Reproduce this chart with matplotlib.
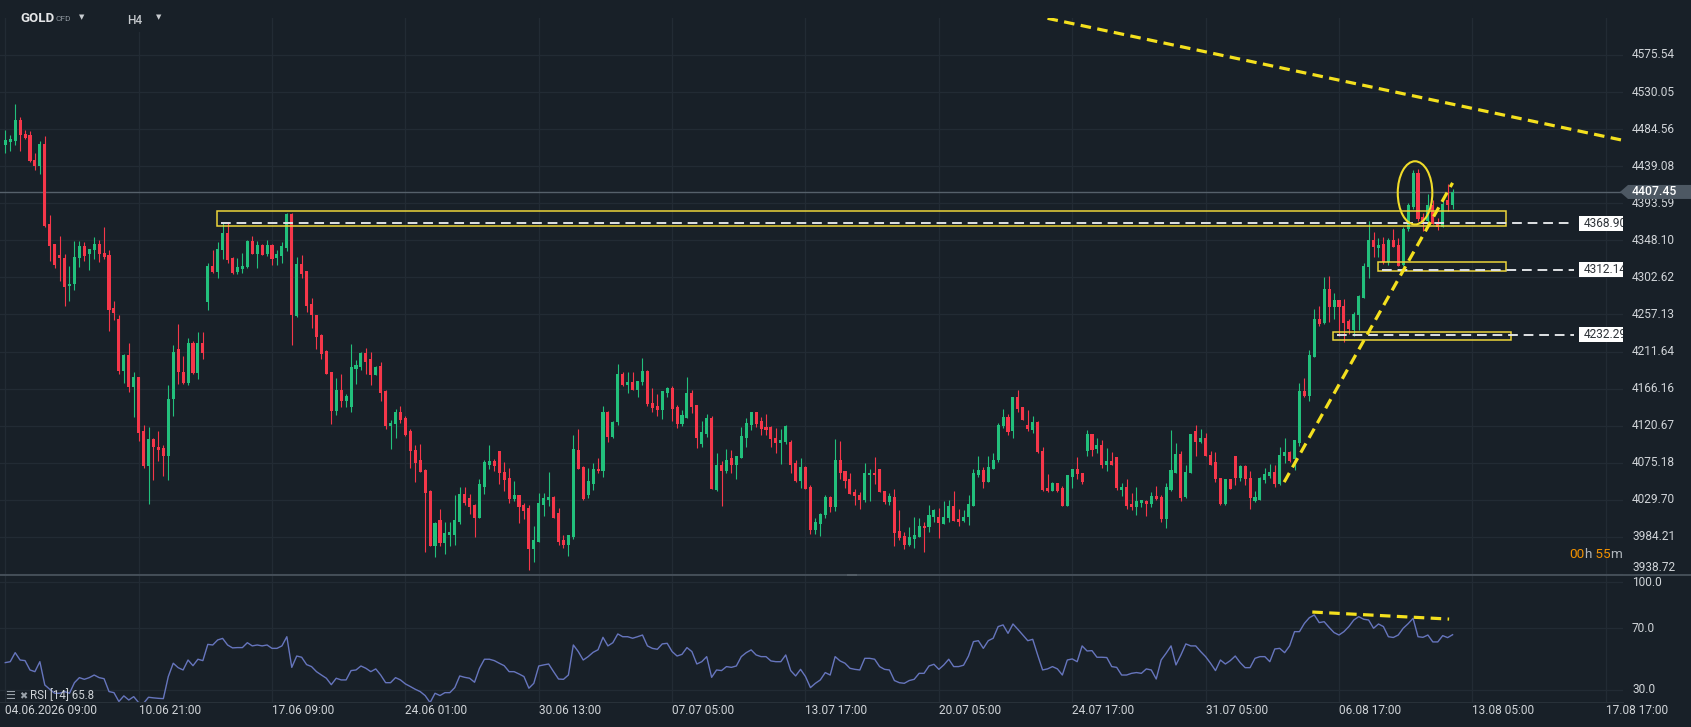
import matplotlib
matplotlib.use("Agg")
import matplotlib.pyplot as plt
from matplotlib.patches import Rectangle, Ellipse, Polygon
from matplotlib.lines import Line2D
from matplotlib.transforms import blended_transform_factory
import numpy as np

plt.rcParams['font.family'] = ['Roboto', 'DejaVu Sans']

# colours
BG = '#182028'
GRID = '#222b34'
TXT = '#d0d4d8'
UP = '#22c07c'
DOWN = '#f5374a'
YEL = '#f4e01e'

# ---- GOLD H4 candles ----
opens = [
    4465, 4469, 4470, 4496, 4479, 4477, 4447, 4439, 4466, 4368,
    4343, 4330, 4327, 4292, 4295, 4326, 4341, 4331, 4336, 4344,
    4333, 4330, 4265, 4252, 4188, 4207, 4168, 4181, 4114, 4071,
    4104, 4095, 4093, 4083, 4153, 4215, 4187, 4173, 4222, 4185,
    4222, 4272, 4317, 4309, 4336, 4357, 4326, 4309, 4313, 4315,
    4347, 4331, 4342, 4331, 4342, 4326, 4329, 4339, 4381, 4255,
    4319, 4310, 4270, 4257, 4232, 4212, 4186, 4139, 4164, 4151,
    4143, 4190, 4193, 4210, 4202, 4183, 4194, 4163, 4120, 4123,
    4138, 4130, 4114, 4091, 4079, 4066, 4041, 3973, 4005, 3977,
    3986, 3987, 4002, 4037, 4032, 4023, 4007, 4046, 4073, 4077,
    4089, 4064, 4057, 4031, 4035, 4023, 4020, 3969, 3978, 4023,
    4030, 4033, 4014, 3980, 3974, 3984, 4091, 4070, 4035, 4049,
    4068, 4065, 4138, 4107, 4125, 4184, 4171, 4174, 4165, 4174,
    4188, 4149, 4145, 4140, 4161, 4167, 4143, 4123, 4130, 4161,
    4146, 4098, 4111, 4130, 4042, 4072, 4065, 4081, 4072, 4081,
    4106, 4122, 4137, 4127, 4119, 4119, 4106, 4100, 4101, 4101,
    4075, 4053, 4070, 4045, 3993, 4000, 4011, 4033, 4021, 4078,
    4065, 4055, 4039, 4036, 4030, 4060, 4063, 4067, 4041, 4027,
    4033, 3991, 3985, 3974, 3982, 3984, 3998, 3996, 4009, 4008,
    4000, 4007, 4022, 4006, 4004, 4008, 4022, 4060, 4066, 4051,
    4067, 4079, 4120, 4131, 4114, 4156, 4143, 4121, 4115, 4125,
    4090, 4044, 4040, 4050, 4044, 4022, 4058, 4068, 4063, 4090,
    4110, 4092, 4097, 4072, 4077, 4082, 4042, 4046, 4024, 4021,
    4026, 4028, 4024, 4034, 4033, 4006, 4042, 4063, 4086, 4033,
    4062, 4114, 4101, 4105, 4085, 4076, 4057, 4024, 4055, 4084,
    4056, 4071, 4057, 4028, 4030, 4054, 4059, 4064, 4049, 4083,
    4088, 4080, 4099, 4163, 4157, 4205, 4251, 4247, 4288, 4266,
    4275, 4268, 4249, 4238, 4257, 4277, 4315, 4349, 4339, 4343,
    4321, 4348, 4342, 4318, 4362, 4389, 4431, 4377, 4372, 4391,
    4368, 4365, 4398, 4391,
]
highs = [
    4484, 4477, 4515, 4500, 4483, 4482, 4455, 4470, 4476, 4379,
    4343, 4353, 4331, 4317, 4347, 4347, 4346, 4338, 4352, 4349,
    4364, 4336, 4274, 4257, 4209, 4222, 4186, 4181, 4121, 4119,
    4106, 4114, 4097, 4170, 4220, 4246, 4206, 4228, 4225, 4235,
    4235, 4320, 4336, 4346, 4369, 4369, 4328, 4326, 4333, 4348,
    4354, 4347, 4343, 4349, 4344, 4336, 4346, 4382, 4382, 4328,
    4330, 4310, 4277, 4257, 4233, 4213, 4186, 4179, 4184, 4159,
    4221, 4201, 4211, 4216, 4211, 4194, 4199, 4164, 4128, 4141,
    4145, 4132, 4116, 4097, 4098, 4068, 4042, 4003, 4019, 4002,
    4002, 4035, 4046, 4046, 4037, 4025, 4055, 4079, 4097, 4080,
    4089, 4076, 4069, 4053, 4036, 4026, 4023, 3998, 4038, 4038,
    4064, 4034, 4020, 3987, 3986, 4109, 4117, 4071, 4069, 4075,
    4081, 4145, 4139, 4127, 4196, 4187, 4186, 4186, 4176, 4204,
    4189, 4167, 4160, 4163, 4168, 4169, 4146, 4140, 4181, 4164,
    4146, 4127, 4135, 4132, 4087, 4077, 4092, 4091, 4084, 4119,
    4130, 4138, 4138, 4131, 4135, 4120, 4118, 4116, 4121, 4103,
    4078, 4081, 4071, 4048, 4007, 4013, 4035, 4034, 4104, 4102,
    4065, 4062, 4043, 4039, 4075, 4067, 4082, 4067, 4041, 4038,
    4043, 4017, 3990, 3996, 4008, 4007, 4003, 4023, 4018, 4020,
    4028, 4030, 4040, 4019, 4017, 4035, 4067, 4083, 4070, 4083,
    4087, 4124, 4141, 4135, 4156, 4165, 4143, 4140, 4132, 4127,
    4094, 4061, 4051, 4050, 4047, 4060, 4068, 4082, 4063, 4115,
    4110, 4105, 4103, 4093, 4088, 4082, 4050, 4055, 4038, 4046,
    4030, 4030, 4039, 4047, 4035, 4050, 4115, 4099, 4089, 4073,
    4110, 4121, 4117, 4112, 4090, 4088, 4057, 4055, 4055, 4084,
    4073, 4072, 4065, 4041, 4058, 4069, 4074, 4073, 4094, 4106,
    4089, 4103, 4173, 4179, 4213, 4264, 4268, 4303, 4304, 4284,
    4275, 4276, 4251, 4260, 4281, 4320, 4372, 4358, 4351, 4352,
    4351, 4362, 4351, 4365, 4394, 4434, 4436, 4382, 4405, 4398,
    4376, 4398, 4417, 4411,
]
lows = [
    4455, 4458, 4465, 4458, 4472, 4444, 4435, 4429, 4365, 4323,
    4314, 4298, 4268, 4274, 4287, 4315, 4323, 4312, 4325, 4321,
    4325, 4237, 4250, 4184, 4173, 4162, 4131, 4102, 4069, 4025,
    4054, 4077, 4059, 4054, 4133, 4172, 4172, 4171, 4184, 4178,
    4202, 4263, 4308, 4302, 4325, 4320, 4307, 4307, 4308, 4314,
    4331, 4314, 4330, 4329, 4318, 4318, 4320, 4335, 4220, 4254,
    4302, 4260, 4241, 4215, 4203, 4184, 4123, 4134, 4143, 4144,
    4138, 4172, 4189, 4184, 4171, 4183, 4151, 4116, 4092, 4106,
    4124, 4108, 4069, 4052, 4064, 3966, 3973, 3960, 3973, 3963,
    3973, 3974, 4000, 4023, 4012, 3984, 4007, 4037, 4068, 4065,
    4049, 4041, 4026, 4028, 4001, 4006, 3944, 3953, 3978, 4010,
    4022, 4007, 3974, 3971, 3961, 3982, 4068, 4030, 4032, 4042,
    4062, 4058, 4101, 4106, 4122, 4169, 4161, 4164, 4156, 4171,
    4145, 4138, 4133, 4129, 4156, 4126, 4118, 4120, 4130, 4136,
    4093, 4095, 4107, 4043, 4041, 4022, 4063, 4062, 4055, 4081,
    4095, 4115, 4119, 4109, 4109, 4095, 4087, 4074, 4098, 4063,
    4052, 4044, 4043, 3988, 3988, 3985, 4007, 4015, 4016, 4055,
    4044, 4037, 4023, 4018, 4027, 4028, 4049, 4039, 4025, 4023,
    3973, 3980, 3969, 3973, 3970, 3984, 3966, 3990, 4002, 3983,
    4000, 4002, 4004, 3997, 4002, 3999, 4022, 4058, 4044, 4051,
    4067, 4076, 4118, 4109, 4106, 4137, 4128, 4114, 4112, 4087,
    4040, 4039, 4040, 4039, 4022, 4022, 4044, 4055, 4049, 4083,
    4083, 4087, 4069, 4065, 4072, 4042, 4034, 4018, 4017, 4011,
    4021, 4010, 4021, 4030, 4002, 3995, 4041, 4062, 4028, 4032,
    4062, 4083, 4099, 4083, 4072, 4051, 4023, 4023, 4043, 4048,
    4053, 4048, 4019, 4027, 4030, 4050, 4057, 4046, 4048, 4075,
    4076, 4066, 4096, 4156, 4151, 4205, 4243, 4246, 4248, 4252,
    4231, 4223, 4233, 4231, 4238, 4277, 4302, 4328, 4328, 4319,
    4318, 4340, 4317, 4317, 4359, 4386, 4372, 4359, 4369, 4368,
    4361, 4364, 4384, 4386,
]
closes = [
    4471, 4472, 4496, 4477, 4474, 4445, 4439, 4466, 4366, 4341,
    4318, 4326, 4291, 4295, 4328, 4341, 4329, 4338, 4344, 4331,
    4328, 4263, 4259, 4188, 4207, 4168, 4181, 4112, 4071, 4104,
    4095, 4091, 4083, 4153, 4211, 4187, 4173, 4222, 4185, 4222,
    4210, 4317, 4309, 4338, 4357, 4324, 4308, 4315, 4317, 4347,
    4331, 4342, 4330, 4342, 4325, 4331, 4341, 4381, 4256, 4319,
    4307, 4268, 4256, 4230, 4209, 4184, 4139, 4164, 4151, 4157,
    4193, 4195, 4210, 4199, 4183, 4193, 4161, 4120, 4124, 4138,
    4128, 4109, 4089, 4075, 4064, 4038, 3973, 4001, 3977, 3989,
    3990, 4005, 4037, 4026, 4021, 4007, 4049, 4076, 4077, 4071,
    4062, 4054, 4031, 4035, 4021, 4016, 3969, 3980, 4026, 4032,
    4033, 4007, 3978, 3974, 3986, 4092, 4068, 4031, 4053, 4068,
    4065, 4138, 4107, 4125, 4184, 4171, 4174, 4165, 4176, 4188,
    4147, 4142, 4140, 4163, 4167, 4141, 4123, 4134, 4161, 4144,
    4106, 4113, 4130, 4043, 4072, 4065, 4079, 4072, 4083, 4108,
    4124, 4137, 4123, 4117, 4115, 4104, 4100, 4103, 4120, 4072,
    4053, 4070, 4043, 3993, 4002, 4012, 4033, 4021, 4078, 4063,
    4053, 4037, 4034, 4030, 4063, 4063, 4060, 4039, 4027, 4034,
    3989, 3983, 3974, 3984, 3986, 3998, 3995, 4011, 4017, 4001,
    4009, 4022, 4004, 4002, 4008, 4024, 4062, 4066, 4051, 4070,
    4078, 4122, 4131, 4113, 4156, 4141, 4128, 4117, 4125, 4088,
    4042, 4040, 4050, 4041, 4022, 4060, 4068, 4061, 4052, 4110,
    4091, 4097, 4072, 4077, 4073, 4044, 4046, 4022, 4021, 4028,
    4029, 4024, 4034, 4031, 4006, 4045, 4066, 4086, 4032, 4064,
    4110, 4101, 4105, 4083, 4073, 4055, 4024, 4055, 4043, 4056,
    4071, 4055, 4032, 4033, 4057, 4061, 4064, 4049, 4085, 4088,
    4077, 4103, 4163, 4157, 4207, 4251, 4245, 4288, 4266, 4275,
    4266, 4247, 4239, 4258, 4280, 4316, 4349, 4340, 4342, 4321,
    4348, 4340, 4317, 4362, 4391, 4431, 4374, 4371, 4391, 4368,
    4365, 4393, 4392, 4407,
]

# RSI(14), one value per candle
rsi = [
    47.6, 48.2, 54.1, 49.3, 48.9, 42.8, 41.7, 48.2, 33.0, 30.2,
    27.6, 27.6, 28.7, 27.6, 34.5, 37.8, 36.7, 37.8, 39.5, 37.8,
    37.1, 28.7, 28.0, 22.2, 25.9, 23.2, 25.4, 21.5, 21.1, 25.0,
    24.6, 24.3, 24.1, 38.5, 47.2, 44.3, 42.8, 49.3, 45.6, 49.8,
    48.9, 59.5, 59.1, 62.4, 63.4, 59.1, 57.2, 57.4, 57.4, 60.6,
    58.5, 59.1, 58.5, 59.1, 56.9, 56.9, 58.5, 64.5, 44.5, 51.9,
    51.1, 46.3, 45.0, 41.7, 39.5, 37.4, 33.2, 37.4, 36.3, 36.3,
    42.4, 42.8, 45.4, 43.9, 41.7, 43.5, 39.5, 34.5, 34.5, 37.8,
    36.3, 33.7, 32.0, 30.2, 28.7, 26.1, 21.5, 27.6, 26.1, 28.0,
    28.0, 31.3, 38.9, 38.0, 37.4, 34.8, 43.9, 49.8, 49.8, 48.9,
    47.2, 45.6, 41.7, 41.7, 40.2, 38.5, 30.9, 34.1, 45.4, 46.1,
    46.7, 41.7, 36.9, 36.7, 39.5, 59.1, 54.8, 49.3, 51.5, 54.3,
    56.0, 64.1, 58.5, 60.6, 66.3, 64.5, 64.5, 63.5, 64.5, 65.6,
    58.5, 56.9, 56.3, 59.8, 60.2, 54.8, 51.9, 53.0, 57.4, 54.8,
    46.7, 48.2, 51.5, 38.0, 42.8, 42.4, 45.0, 44.5, 45.4, 51.5,
    54.1, 55.9, 52.6, 51.5, 51.5, 48.7, 48.2, 48.2, 52.6, 42.4,
    38.9, 43.2, 38.5, 31.3, 34.1, 36.3, 41.1, 39.5, 51.5, 48.7,
    47.2, 43.9, 43.2, 42.8, 50.4, 50.4, 49.8, 45.0, 43.2, 42.8,
    35.9, 34.5, 34.1, 35.9, 36.7, 40.6, 40.6, 45.4, 46.5, 43.2,
    46.1, 49.8, 45.0, 45.0, 45.9, 51.9, 61.3, 61.9, 56.9, 61.9,
    63.5, 71.1, 72.2, 66.7, 72.8, 69.3, 65.6, 61.9, 62.8, 52.6,
    42.8, 43.5, 45.0, 43.5, 39.5, 49.3, 50.0, 48.2, 58.5, 55.2,
    55.4, 51.1, 51.1, 50.9, 45.0, 44.5, 39.5, 39.5, 40.6, 41.1,
    40.6, 43.5, 42.8, 36.9, 49.3, 53.7, 58.5, 46.1, 52.6, 59.8,
    58.5, 58.5, 54.8, 51.5, 47.2, 42.4, 49.3, 46.7, 48.9, 51.9,
    47.6, 44.3, 44.3, 50.4, 51.5, 51.5, 48.2, 56.5, 56.9, 54.1,
    58.5, 67.8, 67.8, 73.2, 76.9, 78.7, 73.7, 74.3, 70.6, 67.2,
    65.6, 67.8, 71.1, 75.4, 77.6, 75.9, 75.4, 70.0, 72.8, 71.1,
    64.5, 64.0, 65.6, 70.0, 73.0, 76.5, 64.5, 64.1, 65.6, 61.1,
    61.1, 65.2, 63.9, 65.8,
]

price_levels = [4575.54, 4530.05, 4484.56, 4439.08, 4393.59, 4348.10, 4302.62,
                4257.13, 4211.64, 4166.16, 4120.67, 4075.18, 4029.70, 3984.21, 3938.72]
rsi_levels = [100.0, 70.0, 30.0]
date_labels = ["04.06.2026 09:00", "10.06 21:00", "17.06 09:00", "24.06 01:00",
               "30.06 13:00", "07.07 05:00", "13.07 17:00", "20.07 05:00",
               "24.07 17:00", "31.07 05:00", "06.08 17:00", "13.08 05:00", "17.08 17:00"]
bars_per_label = 27
last_price = 4407.45

# support zones: level, zone low, zone high, first bar, last bar
zone_levels = [4368.90, 4312.14, 4232.29]
zone_lows = [4365.6, 4310.0, 4226.2]
zone_highs = [4383.5, 4321.0, 4236.0]
zone_starts = [42.9, 277.9, 268.8]
zone_ends = [303.8, 303.9, 304.9]

# trend lines (bar, price)
rise_line = [(258.9, 4051.4), (293.0, 4418.6)]
fall_line = [(211.0, 4620.5), (327.1, 4471.3)]
rsi_line = [(264.6, 80.6), (292.3, 76.0)]

# ---- figure ----
W, H = 1691, 727
fig = plt.figure(figsize=(W / 100, H / 100), dpi=100, facecolor=BG)


def fx(px):
    return px / W


def fy(py):
    return 1 - py / H


PLOT_R = 1623.0
ax = fig.add_axes([0, fy(574.7), fx(PLOT_R), (574.7 - 18) / H])
ax_rsi = fig.add_axes([0, fy(702), fx(PLOT_R), (702 - 574.7) / H])

date_ticks = [k * bars_per_label for k in range(len(date_labels))]
for a in (ax, ax_rsi):
    a.set_facecolor(BG)
    for s in a.spines.values():
        s.set_visible(False)
    a.tick_params(length=0, labelbottom=False, labelleft=False)
    a.set_xticks(date_ticks)
    a.grid(True, color=GRID, lw=0.9)
    a.set_axisbelow(True)
    a.set_xlim(-1.07, 327.5)

ax.set_ylim(3937.8, 4620.9)
ax.set_yticks(price_levels)
ax_rsi.set_ylim(21.9, 104.96)
ax_rsi.set_yticks(rsi_levels)
ax_rsi.spines['bottom'].set_visible(True)
ax_rsi.spines['bottom'].set_color('#283139')

# candles
o = np.array(opens, float)
h = np.array(highs, float)
l = np.array(lows, float)
c = np.array(closes, float)
x = np.arange(len(o))
cols = np.where(c >= o, UP, DOWN)
ax.vlines(x, l, h, colors=cols, lw=0.8, zorder=2)
ax.bar(x, np.maximum(np.abs(c - o), 1.0), bottom=np.minimum(o, c), width=0.62,
       color=cols, lw=0, zorder=2.1)

# current price line
ax.axhline(last_price, color='#56616b', lw=1.0, zorder=1.5)

# right price scale
lab_tr = blended_transform_factory(ax.transAxes, ax.transData)
lab_x = 1632 / PLOT_R
for lv in price_levels:
    ax.text(lab_x, lv, f"{lv:.2f}", transform=lab_tr, ha='left',
            va='bottom' if lv == price_levels[-1] else 'center',
            fontsize=8.6, color=TXT, clip_on=False, zorder=3)

# current price badge
dp = 8.6
badge = Polygon([(1620 / PLOT_R, last_price), (1628 / PLOT_R, last_price + dp),
                 (W / PLOT_R, last_price + dp), (W / PLOT_R, last_price - dp),
                 (1628 / PLOT_R, last_price - dp)],
                closed=True, transform=lab_tr, fc='#4d5863', ec='none',
                clip_on=False, zorder=5)
ax.add_patch(badge)
ax.text(lab_x, last_price, f"{last_price:.2f}", transform=lab_tr, ha='left',
        va='center', fontsize=8.8, color='#ffffff', fontweight='medium',
        clip_on=False, zorder=6)

# support zones, dashed levels and their labels
for lv, lo, hi, x0, x1 in zip(zone_levels, zone_lows, zone_highs, zone_starts, zone_ends):
    ax.add_patch(Rectangle((x0, lo), x1 - x0, hi - lo, fill=False, ec='#ecd53a',
                           lw=1.1, zorder=3))
    ax.plot([x0 + 0.8, 317.5], [lv, lv], color='#dfe2e5', lw=1.4,
            dashes=(5, 3), zorder=3.5)
    ax.add_patch(Rectangle((318.6, lv - 9.3), 12, 18.6, fc='#ffffff', ec='none',
                           zorder=4))
    ax.text(319.6, lv, f"{lv:.2f}", ha='left', va='center', fontsize=8.6,
            color='#2d3238', zorder=4.5, clip_on=True)

# trend lines
for seg in (rise_line, fall_line):
    (xa, ya), (xb, yb) = seg
    ax.plot([xa, xb], [ya, yb], color=YEL, lw=2.3, dashes=(3.3, 2.0),
            solid_capstyle='butt', zorder=4)
ax.add_patch(Ellipse((285.4, 4406.3), 7.0, 77.6, fill=False, ec='#f0dc2a',
                     lw=1.5, zorder=4))

# countdown
cd = ax.text(1569 / PLOT_R, 0.037, "00", transform=ax.transAxes, ha='left',
             va='center', fontsize=9.7, color='#f39200', zorder=5)
cd2 = ax.annotate("h", xy=(1, 0), xycoords=cd, ha='left', va='bottom',
                  fontsize=9.7, color='#b0b6bc', zorder=5)
cd3 = ax.annotate(" 55", xy=(1, 0), xycoords=cd2, ha='left', va='bottom',
                  fontsize=9.7, color='#f39200', zorder=5)
ax.annotate("m", xy=(1, 0), xycoords=cd3, ha='left', va='bottom',
            fontsize=9.7, color='#b0b6bc', zorder=5)

# RSI panel
ax_rsi.plot(np.arange(len(rsi)), rsi, color='#6675bd', lw=1.0, zorder=2)
(xa, ya), (xb, yb) = rsi_line
ax_rsi.plot([xa, xb], [ya, yb], color=YEL, lw=2.3, dashes=(3.3, 2.0), zorder=3)
rsi_tr = blended_transform_factory(ax_rsi.transAxes, ax_rsi.transData)
for lv in rsi_levels:
    ax_rsi.text(lab_x, lv, f"{lv:.1f}", transform=rsi_tr, ha='left', va='center',
                fontsize=8.6, color=TXT, clip_on=False)

date_tr = blended_transform_factory(ax_rsi.transData, ax_rsi.transAxes)
for t, lab in zip(date_ticks, date_labels):
    ax_rsi.text(t, -0.063, lab, transform=date_tr, ha='left', va='center',
                fontsize=8.6, color=TXT, clip_on=False)

fig.text(fx(5), fy(696), "\u2630", fontsize=8, color='#9aa2aa', va='center',
         family='DejaVu Sans')
fig.text(fx(19), fy(696), "\u2716", fontsize=7, color='#9aa2aa', va='center',
         family='DejaVu Sans')
fig.text(fx(30), fy(696), "RSI [14] 65.8", fontsize=8.3, color='#cdd1d5', va='center')

# panel separator and its handle
fig.add_artist(Line2D([0, 1], [fy(574.7)] * 2, transform=fig.transFigure,
                      color='#48525c', lw=1.3))
fig.add_artist(Rectangle((fx(847), fy(576)), fx(10), 2.5 / H,
                         transform=fig.transFigure, fc='#c3c7cb', ec='none'))

# header
fig.add_artist(Rectangle((fx(10), fy(32)), fx(170), 32 / H,
                         transform=fig.transFigure, fc=BG, ec='none'))
fig.text(fx(20), fy(18), "GOLD", fontsize=9.5, fontweight='bold', color='#e4e6e8',
         va='center')
fig.text(fx(55), fy(19), "CFD", fontsize=6, color='#8c949c', va='center')
fig.text(fx(79), fy(17), "\u25BC", fontsize=5, color='#c8ccd0', va='center',
         family='DejaVu Sans')
fig.text(fx(127), fy(20), "H4", fontsize=8.5, fontweight='medium', color='#c4c8cc',
         va='center')
fig.text(fx(156), fy(17), "\u25BC", fontsize=5, color='#c8ccd0', va='center',
         family='DejaVu Sans')

fig.savefig("out.png", dpi=100, facecolor=BG)
